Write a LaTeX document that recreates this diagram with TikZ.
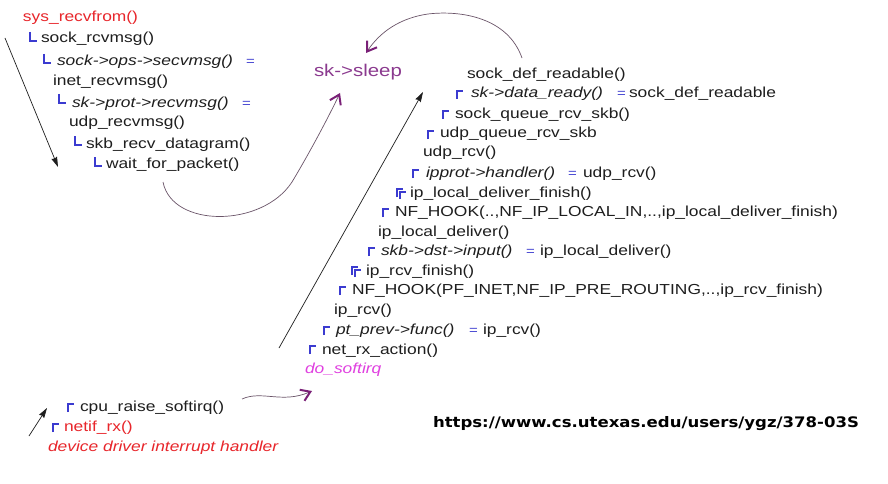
\documentclass[tikz,border=0pt]{standalone}
\usepackage{fontspec}
\setmainfont[FakeStretch=1.2]{Liberation Sans}
\newfontfamily\urlfont[FakeStretch=1.14]{DejaVu Sans}
\usetikzlibrary{arrows.meta}
\definecolor{ctext}{HTML}{1E1E1E}
\definecolor{cred}{HTML}{E8262B}
\definecolor{cblue}{HTML}{3B3BD0}
\definecolor{cpurp}{HTML}{8B3A8F}
\definecolor{cmag}{HTML}{E040E0}
\definecolor{ccurve}{HTML}{6A5468}
\definecolor{chead}{HTML}{7A2077}
\newcommand\myfs{\fontsize{14.5}{17}\selectfont}
\tikzset{
  basetxt/.style={anchor=base west, inner sep=0pt, outer sep=0pt},
  fn/.style={basetxt, text=ctext, font=\myfs},
  fi/.style={basetxt, text=ctext, font=\myfs\itshape},
  eqs/.style={basetxt, text=cblue, font=\fontsize{12.5}{15}\selectfont},
  redn/.style={basetxt, text=cred, font=\myfs},
  redi/.style={basetxt, text=cred, font=\myfs\itshape},
  magi/.style={basetxt, text=cmag, font=\myfs\itshape},
  sleepn/.style={basetxt, text=cpurp, font=\fontsize{17}{20}\selectfont},
  urln/.style={basetxt, text=black, font=\fontsize{14.5}{18}\selectfont\urlfont\bfseries},
  lbr/.pic={\draw[cblue, line width=1.3pt] (0,-9) -- (0,0) -- (7,0);},
  rbr/.pic={\draw[cblue, line width=1.3pt] (0,8) -- (0,0) -- (6,0);},
  dbr/.pic={\draw[cblue, line width=1.3pt] (0,8) -- (0,0) -- (6,0);
            \draw[cblue, line width=1.3pt] (3,10) -- (3,3) -- (9,3);},
  blackarr/.style={draw=ctext, line width=0.7pt, -{Stealth[length=10pt,width=6pt,inset=1pt]}},
  purparr/.style={draw=ccurve, line width=0.7pt, -{Straight Barb[color=chead,line width=2pt,length=9pt,width=12pt]}},
}
\begin{document}
\begin{tikzpicture}[x=1pt,y=-1pt]
\fill[white] (0,0) rectangle (888,484);
\useasboundingbox (0,0) rectangle (888,484);

% ---------- left column (receive call chain) ----------
\node[redn] (sysrecv) at (23,22) {sys\_recvfrom()};
\pic at (30,41) {lbr};
\node[fn] (sockrcv) at (41,43) {sock\_rcvmsg()};
\pic at (44,63) {lbr};
\node[fi] (opsrecv) at (57,66) {sock->ops->secvmsg()};
\node[eqs] (eqA) at (246,66) {=};
\node[fn] (inetrecv) at (53,86) {inet\_recvmsg()};
\pic at (59,103) {lbr};
\node[fi] (protrecv) at (72,107) {sk->prot->recvmsg()};
\node[eqs] (eqB) at (242,107) {=};
\node[fn] (udprecv) at (69,127) {udp\_recvmsg()};
\pic at (75,145) {lbr};
\node[fn] (skbrecv) at (86,148) {skb\_recv\_datagram()};
\pic at (95,166) {lbr};
\node[fn] (waitpkt) at (106,168) {wait\_for\_packet()};

% ---------- sk->sleep ----------
\node[sleepn] (sleep) at (314,77) {sk->sleep};

% ---------- right column (receive path) ----------
\node[fn] (defread) at (467,79) {sock\_def\_readable()};
\pic at (457,91) {rbr};
\node[fi] (dataready) at (471,98) {sk->data\_ready()};
\node[eqs] (eqC) at (617,98) {=};
\node[fn] (defread2) at (629,98) {sock\_def\_readable};
\pic at (443,111) {rbr};
\node[fn] (queuercv) at (455,118) {sock\_queue\_rcv\_skb()};
\pic at (428,131) {rbr};
\node[fn] (udpqueue) at (440,137) {udp\_queue\_rcv\_skb};
\node[fn] (udprcv) at (423,157) {udp\_rcv()};
\pic at (413,170) {rbr};
\node[fi] (handler) at (426,177) {ipprot->handler()};
\node[eqs] (eqD) at (568,177) {=};
\node[fn] (udprcv2) at (583,177) {udp\_rcv()};
\pic at (397,189) {dbr};
\node[fn] (ldfinish) at (410,197) {ip\_local\_deliver\_finish()};
\pic at (383,209) {rbr};
\node[fn] (nfhook1) at (395,216) {NF\_HOOK(..,NF\_IP\_LOCAL\_IN,..,ip\_local\_deliver\_finish)};
\node[fn] (ldeliver) at (378,236) {ip\_local\_deliver()};
\pic at (369,248) {rbr};
\node[fi] (dstinput) at (381,255) {skb->dst->input()};
\node[eqs] (eqE) at (526,255) {=};
\node[fn] (ldeliver2) at (540,255) {ip\_local\_deliver()};
\pic at (352,267) {dbr};
\node[fn] (rcvfinish) at (366,275) {ip\_rcv\_finish()};
\pic at (340,287) {rbr};
\node[fn] (nfhook2) at (352,294) {NF\_HOOK(PF\_INET,NF\_IP\_PRE\_ROUTING,..,ip\_rcv\_finish)};
\node[fn] (iprcv) at (334,314) {ip\_rcv()};
\pic at (324,327) {rbr};
\node[fi] (ptfunc) at (336,334) {pt\_prev->func()};
\node[eqs] (eqF) at (469,334) {=};
\node[fn] (iprcv2) at (483,334) {ip\_rcv()};
\pic at (310,346) {rbr};
\node[fn] (netrx) at (322,354) {net\_rx\_action()};
\node[magi] (dosoftirq) at (305,373) {do\_softirq};

% ---------- bottom left (interrupt) ----------
\pic at (68,404) {rbr};
\node[fn] (cpuraise) at (80,411) {cpu\_raise\_softirq()};
\pic at (53,424) {rbr};
\node[redn] (netifrx) at (64,431) {netif\_rx()};
\node[redi] (driver) at (48,451) {device driver interrupt handler};

% ---------- url ----------
\node[urln] (url) at (433,427) {https://www.cs.utexas.edu/users/ygz/378-03S};

% ---------- connectors ----------
\coordinate (downS) at (5,38);
\coordinate (downE) at (58,167);
\draw[blackarr] (downS) -- (downE);

\coordinate (waitS) at (163,182);
\coordinate (sleepB) at (340,93);
\draw[purparr] (waitS) .. controls (172,228) and (262,228) .. (292,182)
  .. controls (310,152) and (328,118) .. (sleepB);

\coordinate (readS) at (522,58);
\coordinate (sleepT) at (366,53);
\draw[purparr] (readS) .. controls (508,18) and (462,10) .. (428,14)
  .. controls (400,18) and (380,32) .. (sleepT);

\coordinate (upS) at (279,348);
\coordinate (upE) at (423,92);
\draw[blackarr] (upS) -- (upE);

\coordinate (intS) at (29,436);
\coordinate (intE) at (47,408);
\draw[blackarr] (intS) -- (intE);

\coordinate (cpuS) at (242,399);
\coordinate (softE) at (312,391);
\draw[purparr] (cpuS) .. controls (262,390) and (282,404) .. (softE);
\end{tikzpicture}
\end{document}
